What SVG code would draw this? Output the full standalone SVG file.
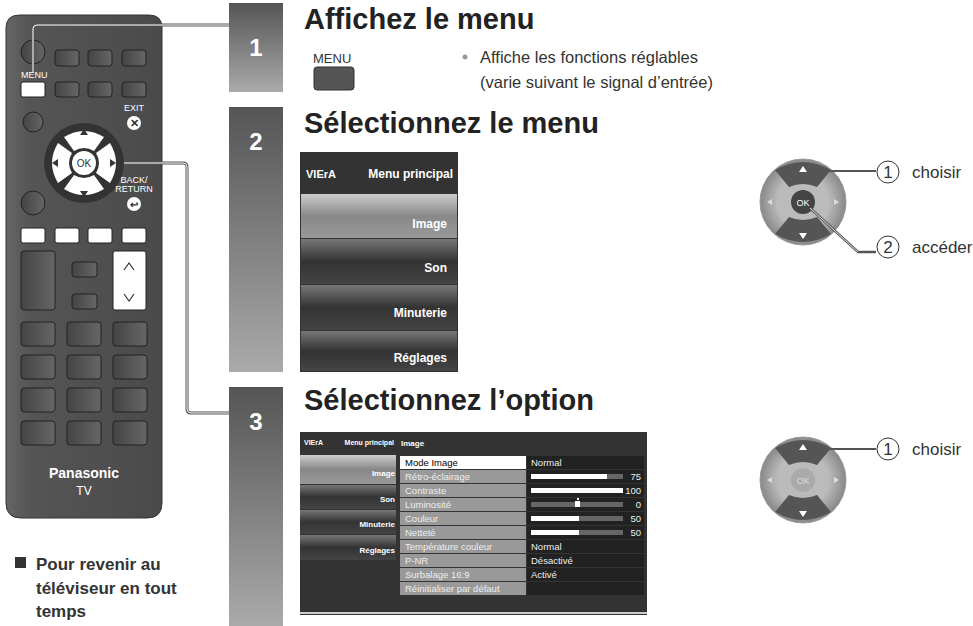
<svg xmlns="http://www.w3.org/2000/svg" width="973" height="626" viewBox="0 0 973 626">
<defs>
<linearGradient id="bar" x1="0" y1="0" x2="0" y2="1"><stop offset="0" stop-color="#555"/><stop offset="1" stop-color="#aaa"/></linearGradient>
<linearGradient id="rem" x1="0" y1="0" x2="1" y2="0"><stop offset="0" stop-color="#666"/><stop offset="0.15" stop-color="#555"/><stop offset="1" stop-color="#4a4a4a"/></linearGradient>
<linearGradient id="btn" x1="0" y1="0" x2="1" y2="0"><stop offset="0" stop-color="#444"/><stop offset="1" stop-color="#666"/></linearGradient>
<linearGradient id="item" x1="0" y1="0" x2="0" y2="1"><stop offset="0" stop-color="#777"/><stop offset="0.5" stop-color="#333"/><stop offset="1" stop-color="#444"/></linearGradient>
<linearGradient id="itemsel" x1="0" y1="0" x2="0" y2="1"><stop offset="0" stop-color="#ccc"/><stop offset="0.5" stop-color="#888"/><stop offset="1" stop-color="#999"/></linearGradient>
<radialGradient id="pad" cx="0.5" cy="0.5" r="0.5"><stop offset="0.6" stop-color="#bbb"/><stop offset="1" stop-color="#888"/></radialGradient>
</defs>
<style>
text{font-family:"Liberation Sans",Arial,sans-serif}
.h{font-size:29px;font-weight:bold;fill:#222}
.num{font-size:24px;font-weight:bold;fill:#fff}
.rb{fill:url(#btn);stroke:#222;stroke-width:1}
.wb{fill:#fff;stroke:#222;stroke-width:1}
.conn{fill:none;stroke:#555;stroke-width:3}
.conn2{fill:none;stroke:#fff;stroke-width:1}
.t{font-size:16.5px;fill:#333}
.c{font-size:17px;fill:#333}
.m{font-weight:bold;fill:#fff;text-anchor:end}
.m12{font-size:12px}
.m8{font-size:8px}
.r{font-size:9.5px;fill:#eee}
</style>
<g id="remote">
<path d="M6 28 Q6 15 20 15 L149 15 Q162 15 162 28 L162 503 Q162 518 147 518 L21 518 Q6 518 6 503 Z" fill="url(#rem)" stroke="#333"/>
<circle cx="33" cy="52" r="12" class="rb"/>
<rect x="55" y="50" width="24" height="16" rx="3" class="rb"/><rect x="88" y="50" width="24" height="16" rx="3" class="rb"/><rect x="122" y="50" width="24" height="16" rx="3" class="rb"/>
<text x="21" y="78" font-size="9" fill="#fff">MENU</text>
<rect x="21" y="82" width="24" height="15" rx="2" class="wb"/>
<rect x="55" y="82" width="24" height="15" rx="3" class="rb"/><rect x="88" y="82" width="24" height="15" rx="3" class="rb"/><rect x="122" y="82" width="24" height="15" rx="3" class="rb"/>
<text x="134" y="111" font-size="9" fill="#fff" text-anchor="middle">EXIT</text>
<circle cx="134" cy="123" r="7" fill="#fff"/><text x="134" y="127" font-size="11" font-weight="bold" fill="#333" text-anchor="middle">✕</text>
<circle cx="33" cy="122" r="10" class="rb"/>
<circle cx="84" cy="163" r="40" fill="#333"/>
<path d="M64 137 Q84 125 104 137 L94 151 Q84 145 74 151 Z" fill="#fff"/>
<path d="M64 189 Q84 201 104 189 L94 175 Q84 181 74 175 Z" fill="#fff"/>
<path d="M58 143 Q46 163 58 183 L72 173 Q66 163 72 153 Z" fill="#fff"/>
<path d="M110 143 Q122 163 110 183 L96 173 Q102 163 96 153 Z" fill="#fff"/>
<path d="M84 129 l-4 6 h8z M84 197 l-4 -6 h8z M52 163 l6 -4 v8z M116 163 l-6 -4 v8z" fill="#333"/>
<circle cx="84" cy="163" r="12" fill="#fff"/><text x="84" y="167" font-size="10" fill="#333" text-anchor="middle">OK</text>
<text x="134" y="183" font-size="9" fill="#fff" text-anchor="middle">BACK/</text>
<text x="134" y="192" font-size="9" fill="#fff" text-anchor="middle">RETURN</text>
<circle cx="134" cy="204" r="7" fill="#fff"/><text x="134" y="208" font-size="10" font-weight="bold" fill="#333" text-anchor="middle">↩</text>
<circle cx="33" cy="203" r="12" class="rb"/>
<rect x="21" y="228" width="24" height="15" rx="2" class="wb"/><rect x="55" y="228" width="24" height="15" rx="2" class="wb"/><rect x="88" y="228" width="24" height="15" rx="2" class="wb"/><rect x="122" y="228" width="24" height="15" rx="2" class="wb"/>
<rect x="21" y="251" width="34" height="59" rx="3" class="rb"/>
<rect x="72" y="262" width="25" height="15" rx="3" class="rb"/><rect x="72" y="294" width="25" height="15" rx="3" class="rb"/>
<rect x="113" y="251" width="33" height="59" rx="2" class="wb"/>
<path d="M124 270 l5 -7 l5 7 M124 294 l5 7 l5 -7" fill="none" stroke="#333" stroke-width="1.2"/>
<g>
<rect x="21" y="322" width="34" height="24" rx="3" class="rb"/><rect x="67" y="322" width="34" height="24" rx="3" class="rb"/><rect x="113" y="322" width="34" height="24" rx="3" class="rb"/>
<rect x="21" y="355" width="34" height="24" rx="3" class="rb"/><rect x="67" y="355" width="34" height="24" rx="3" class="rb"/><rect x="113" y="355" width="34" height="24" rx="3" class="rb"/>
<rect x="21" y="388" width="34" height="24" rx="3" class="rb"/><rect x="67" y="388" width="34" height="24" rx="3" class="rb"/><rect x="113" y="388" width="34" height="24" rx="3" class="rb"/>
<rect x="21" y="421" width="34" height="24" rx="3" class="rb"/><rect x="67" y="421" width="34" height="24" rx="3" class="rb"/><rect x="113" y="421" width="34" height="24" rx="3" class="rb"/>
</g>
<text x="84" y="478" font-size="14" font-weight="bold" fill="#fff" text-anchor="middle">Panasonic</text>
<text x="84" y="495" font-size="12" fill="#fff" text-anchor="middle">TV</text>
</g>
<g id="connectors">
<path class="conn" d="M33 72 V29 Q33 25 37 25 H229"/>
<path class="conn2" d="M33 72 V29 Q33 25 37 25 H229"/>
<path class="conn" d="M124 163 H183 Q187 163 187 167 V409 Q187 413 191 413 H229"/>
<path class="conn2" d="M124 163 H183 Q187 163 187 167 V409 Q187 413 191 413 H229"/>
</g>
<g id="step1">
<rect x="229" y="3" width="54" height="89" fill="url(#bar)"/>
<text x="256" y="56" class="num" text-anchor="middle">1</text>
<text x="304" y="29" class="h">Affichez le menu</text>
<text x="313" y="63" font-size="13" fill="#333">MENU</text>
<rect x="314" y="67" width="40" height="23" rx="3" fill="#555" stroke="#333"/>
<circle cx="465" cy="57" r="2.5" fill="#999"/>
<text x="480" y="63" class="t">Affiche les fonctions réglables</text>
<text x="480" y="88" class="t">(varie suivant le signal d’entrée)</text>
</g>
<g id="step2">
<rect x="229" y="107" width="54" height="265" fill="url(#bar)"/>
<text x="256" y="150" class="num" text-anchor="middle">2</text>
<text x="304" y="133" class="h">Sélectionnez le menu</text>
<rect x="300" y="152" width="158" height="220" fill="#333"/>
<text x="306" y="178" font-size="11" font-weight="bold" fill="#fff">VIErA</text>
<text x="453" y="178" class="m m12">Menu principal</text>
<rect x="301" y="194" width="156" height="44" fill="url(#itemsel)"/>
<rect x="301" y="239" width="156" height="45" fill="url(#item)"/>
<rect x="301" y="285" width="156" height="45" fill="url(#item)"/>
<rect x="301" y="331" width="156" height="40" fill="url(#item)"/>
<text x="447" y="228" class="m m12">Image</text>
<text x="447" y="272" class="m m12">Son</text>
<text x="447" y="317" class="m m12">Minuterie</text>
<text x="447" y="362" class="m m12">Réglages</text>
</g>
<g id="step3">
<rect x="229" y="387" width="54" height="239" fill="url(#bar)"/>
<text x="256" y="430" class="num" text-anchor="middle">3</text>
<text x="304" y="410" class="h">Sélectionnez l’option</text>
<rect x="300" y="432" width="347" height="183" fill="#333"/>
<rect x="300" y="612" width="347" height="2" fill="#ccc"/>
<text x="304" y="445" font-size="7" font-weight="bold" fill="#fff">VIErA</text>
<text x="394" y="445" class="m" style="font-size:7px">Menu principal</text>
<text x="401" y="446" font-size="8" font-weight="bold" fill="#fff">Image</text>
<rect x="300" y="455" width="96" height="29" fill="url(#itemsel)"/>
<rect x="300" y="485" width="96" height="24" fill="url(#item)"/>
<rect x="300" y="510" width="96" height="24" fill="url(#item)"/>
<rect x="300" y="535" width="96" height="25" fill="url(#item)"/>
<text x="395" y="476" class="m m8">Image</text>
<text x="395" y="502" class="m m8">Son</text>
<text x="395" y="527" class="m m8">Minuterie</text>
<text x="395" y="553" class="m m8">Réglages</text>
<rect x="400" y="456" width="126" height="13" fill="#fff"/>
<rect x="527" y="456" width="117" height="13" fill="#222"/>
<g fill="#999">
<rect x="400" y="470" width="126" height="13"/><rect x="400" y="484" width="126" height="13"/><rect x="400" y="498" width="126" height="13"/><rect x="400" y="512" width="126" height="13"/><rect x="400" y="526" width="126" height="13"/><rect x="400" y="540" width="126" height="13"/><rect x="400" y="554" width="126" height="13"/><rect x="400" y="568" width="126" height="13"/><rect x="400" y="582" width="126" height="13"/>
</g>
<g fill="#222">
<rect x="527" y="470" width="117" height="13"/><rect x="527" y="484" width="117" height="13"/><rect x="527" y="498" width="117" height="13"/><rect x="527" y="512" width="117" height="13"/><rect x="527" y="526" width="117" height="13"/><rect x="527" y="540" width="117" height="13"/><rect x="527" y="554" width="117" height="13"/><rect x="527" y="568" width="117" height="13"/><rect x="527" y="582" width="117" height="13"/>
</g>
<g fill="#666"><rect x="531" y="474" width="92" height="5"/><rect x="531" y="502" width="92" height="5"/><rect x="531" y="516" width="92" height="5"/><rect x="531" y="530" width="92" height="5"/></g>
<g fill="#fff"><rect x="531" y="474" width="76" height="5"/><rect x="531" y="488" width="92" height="5"/><rect x="575" y="501" width="5" height="6"/><rect x="577" y="498" width="2" height="2"/><rect x="531" y="516" width="48" height="5"/><rect x="531" y="530" width="48" height="5"/></g>
<g font-size="9.5" fill="#000"><text x="405" y="466">Mode Image</text></g>
<g class="r">
<text x="405" y="480">Rétro-éclairage</text><text x="405" y="494">Contraste</text><text x="405" y="508">Luminosité</text><text x="405" y="522">Couleur</text><text x="405" y="536">Netteté</text><text x="405" y="550">Température couleur</text><text x="405" y="564">P-NR</text><text x="405" y="578">Surbalage 16:9</text><text x="405" y="592">Réinitialiser par défaut</text>
<text x="531" y="466">Normal</text><text x="531" y="550">Normal</text><text x="531" y="564">Désactivé</text><text x="531" y="578">Activé</text>
<g text-anchor="end"><text x="641" y="480">75</text><text x="641" y="494">100</text><text x="641" y="508">0</text><text x="641" y="522">50</text><text x="641" y="536">50</text></g>
</g>
</g>
<g id="pad1">
<circle cx="803" cy="202" r="43" fill="url(#pad)" stroke="#999"/>
<path d="M775 170 Q803 154 831 170 L817 187 Q803 181 789 187 Z" fill="#555"/>
<path d="M775 234 Q803 250 831 234 L817 217 Q803 223 789 217 Z" fill="#555"/>
<path d="M803 166 l-4 6 h8z M803 239 l-4 -6 h8z" fill="#fff"/>
<path d="M767 202 l5 -3 v6z M839 202 l-5 -3 v6z" fill="#ddd"/>
<circle cx="803" cy="202" r="12" fill="#444"/><text x="803" y="206" font-size="9" fill="#fff" text-anchor="middle">OK</text>
<line x1="813" y1="171" x2="876" y2="171" stroke="#555" stroke-width="2"/>
<path d="M810 208 L858 252 H876" fill="none" stroke="#555" stroke-width="2.5"/>
<path d="M810 208 L858 252" fill="none" stroke="#fff" stroke-width="0.8"/>
<circle cx="888" cy="172" r="11" fill="none" stroke="#333"/><text x="888" y="178" class="c" text-anchor="middle">1</text>
<text x="912" y="178" class="c">choisir</text>
<circle cx="888" cy="247" r="11" fill="none" stroke="#333"/><text x="888" y="253" class="c" text-anchor="middle">2</text>
<text x="912" y="253" class="c">accéder</text>
</g>
<g id="pad2">
<circle cx="803" cy="480" r="43" fill="url(#pad)" stroke="#999"/>
<path d="M775 448 Q803 432 831 448 L817 465 Q803 459 789 465 Z" fill="#555"/>
<path d="M775 512 Q803 528 831 512 L817 495 Q803 501 789 495 Z" fill="#555"/>
<path d="M803 444 l-4 6 h8z M803 517 l-4 -6 h8z" fill="#fff"/>
<path d="M767 480 l5 -3 v6z M839 480 l-5 -3 v6z" fill="#ddd"/>
<circle cx="803" cy="480" r="12" fill="#aaa"/><text x="803" y="484" font-size="9" fill="#ddd" text-anchor="middle">OK</text>
<line x1="813" y1="449" x2="876" y2="449" stroke="#555" stroke-width="2"/>
<circle cx="888" cy="449" r="11" fill="none" stroke="#333"/><text x="888" y="455" class="c" text-anchor="middle">1</text>
<text x="912" y="455" class="c">choisir</text>
</g>
<g id="note">
<rect x="15" y="557" width="11" height="11" fill="#333"/>
<text x="36" y="570" font-size="17" font-weight="bold" fill="#333">Pour revenir au</text>
<text x="36" y="594" font-size="17" font-weight="bold" fill="#333">téléviseur en tout</text>
<text x="36" y="617" font-size="17" font-weight="bold" fill="#333">temps</text>
</g>
</svg>
